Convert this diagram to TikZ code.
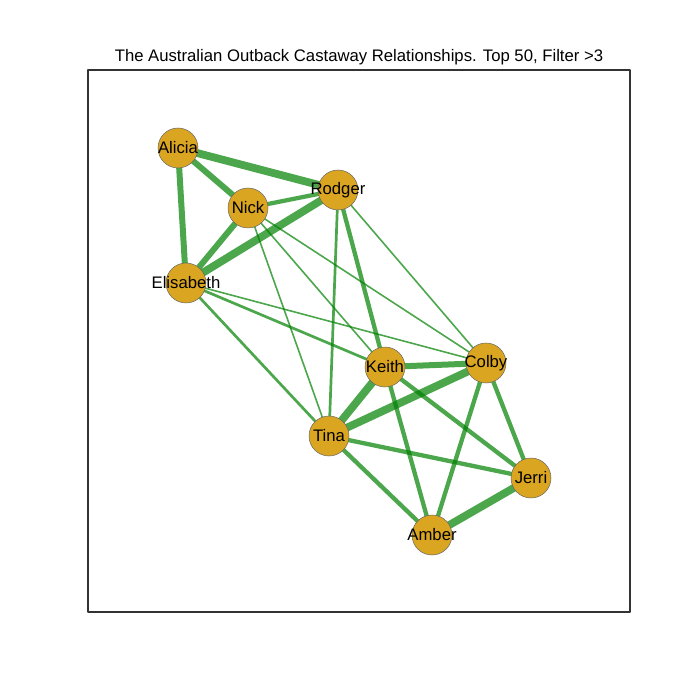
\documentclass[tikz,border=0pt]{standalone}
\usepackage{fontspec}
\setmainfont{Liberation Sans}
\usepackage{tikz}
\usetikzlibrary{backgrounds}

\definecolor{nodegold}{RGB}{218,165,32}
\definecolor{edgegreen}{RGB}{0,128,0}
\definecolor{framegray}{RGB}{51,51,51}

\tikzset{
  castaway/.style={circle,fill=nodegold,draw=black!60,line width=0.5pt,minimum size=40pt,inner sep=0pt},
  tie/.style={draw=edgegreen,draw opacity=0.7,line cap=butt},
  tiny/.style={tie,line width=1.6pt},
  slim/.style={tie,line width=2.7pt},
  mid/.style={tie,line width=4.3pt},
  fat/.style={tie,line width=6pt},
  huge/.style={tie,line width=7.8pt}
}

\begin{document}
\begin{tikzpicture}[line cap=round,line join=round,x=1pt,y=-1pt,font=\fontsize{16.7}{20}\selectfont]
\useasboundingbox (0,0) rectangle (700,700);

\draw[framegray,line width=1.8pt,line cap=rect] (88,70) rectangle (630,612);
\node (title) at (359,57) {The Australian Outback Castaway Relationships. Top 50, Filter >3};

% castaways
\node[castaway,label={center:Alicia}] (alicia) at (178,148) {};
\node[castaway,label={center:Rodger}] (rodger) at (338,190) {};
\node[castaway,label={center:Nick}] (nick) at (248,208) {};
\node[castaway,label={center:Elisabeth}] (elisabeth) at (186,283) {};
\node[castaway,label={center:Keith}] (keith) at (385,367) {};
\node[castaway,label={center:Colby}] (colby) at (486,363) {};
\node[castaway,label={center:Tina}] (tina) at (329,436) {};
\node[castaway,label={center:Jerri}] (jerri) at (531,478) {};
\node[castaway,label={center:Amber}] (amber) at (432,535) {};

\begin{scope}[on background layer]
\draw[huge] (alicia.center) -- (rodger.center);
\draw[fat] (alicia.center) -- (nick.center);
\draw[fat] (alicia.center) -- (elisabeth.center);
\draw[mid] (nick.center) -- (rodger.center);
\draw[fat] (nick.center) -- (elisabeth.center);
\draw[huge] (rodger.center) -- (elisabeth.center);
\draw[slim] (rodger.center) -- (tina.center);
\draw[mid] (rodger.center) -- (keith.center);
\draw[tiny] (rodger.center) -- (colby.center);
\draw[tiny] (nick.center) -- (keith.center);
\draw[tiny] (nick.center) -- (colby.center);
\draw[tiny] (nick.center) -- (tina.center);
\draw[slim] (elisabeth.center) -- (keith.center);
\draw[tiny] (elisabeth.center) -- (colby.center);
\draw[slim] (elisabeth.center) -- (tina.center);
\draw[fat] (keith.center) -- (colby.center);
\draw[huge] (keith.center) -- (tina.center);
\draw[huge] (colby.center) -- (tina.center);
\draw[mid] (keith.center) -- (jerri.center);
\draw[mid] (keith.center) -- (amber.center);
\draw[mid] (colby.center) -- (jerri.center);
\draw[mid] (colby.center) -- (amber.center);
\draw[mid] (tina.center) -- (jerri.center);
\draw[mid] (tina.center) -- (amber.center);
\draw[huge] (jerri.center) -- (amber.center);
\end{scope}
\end{tikzpicture}
\end{document}
